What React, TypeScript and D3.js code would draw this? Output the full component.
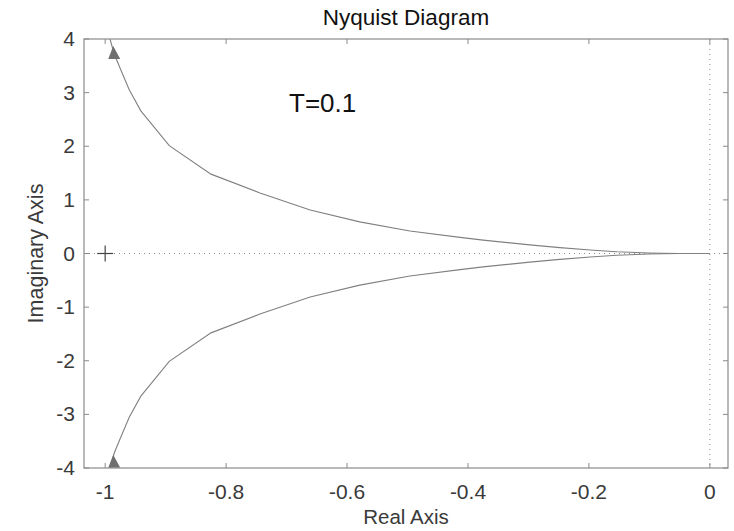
import React from 'react';
import * as d3 from 'd3';

// upper branch of the Nyquist curve (lower branch is its conjugate)
const upperRe = [-0.992, -0.985, -0.977, -0.96, -0.941, -0.894, -0.825, -0.744, -0.661, -0.579, -0.496, -0.413, -0.375, -0.298, -0.248, -0.198, -0.154, -0.1, -0.05, 0];
const upperIm = [4.0, 3.72, 3.5, 3.05, 2.66, 2.01, 1.48, 1.13, 0.81, 0.59, 0.42, 0.3, 0.25, 0.16, 0.11, 0.065, 0.034, 0.01, 0.0, 0];
const arrowRe = [-0.985, -0.985];
const arrowIm = [3.72, -3.9];

const xTicks = [-1, -0.8, -0.6, -0.4, -0.2, 0];
const yTicks = [-4, -3, -2, -1, 0, 1, 2, 3, 4];

const title = 'Nyquist Diagram';
const xLabel = 'Real Axis';
const yLabel = 'Imaginary Axis';
const note = 'T=0.1';

const App = () => {
  const width = 734;
  const height = 531;
  const margin = { top: 39, right: 6, bottom: 63, left: 84 };
  const font = 'Liberation Sans, Arial, sans-serif';
  const axisColor = '#8a8a8a';
  const textColor = '#3a3a3a';
  const lineColor = '#808080';

  const x = d3
    .scaleLinear()
    .domain([-1.035, 0.03])
    .range([margin.left, width - margin.right]);
  const y = d3
    .scaleLinear()
    .domain([-4, 4])
    .range([height - margin.bottom, margin.top]);

  const upper: [number, number][] = upperRe.map((r, i) => [r, upperIm[i]]);
  const lower: [number, number][] = upperRe.map((r, i) => [r, -upperIm[i]]);
  const line = d3
    .line<[number, number]>()
    .x((d) => x(d[0]))
    .y((d) => y(d[1]));

  const x0 = x.range()[0];
  const x1 = x.range()[1];
  const y0 = y.range()[1];
  const y1 = y.range()[0];
  const tick = 5;

  return (
    <svg width={width} height={height} style={{ position: 'absolute', left: 0, top: 0, background: '#fff' }}>
      <defs>
        <clipPath id="plot">
          <rect x={x0} y={y0} width={x1 - x0} height={y1 - y0} />
        </clipPath>
      </defs>
      <rect x={0} y={0} width={width} height={height} fill="#fff" />

      {/* zero lines */}
      <line x1={x0} x2={x1} y1={y(0)} y2={y(0)} stroke={axisColor} strokeDasharray="1,4" />
      <line x1={x(0)} x2={x(0)} y1={y0} y2={y1} stroke={axisColor} strokeDasharray="1,4" />

      {/* critical point */}
      <g stroke="#444" strokeWidth={1.2}>
        <line x1={x(-1) - 8} x2={x(-1) + 8} y1={y(0)} y2={y(0)} />
        <line x1={x(-1)} x2={x(-1)} y1={y(0) - 8} y2={y(0) + 8} />
      </g>

      <g clipPath="url(#plot)">
        <path d={line(upper) || ''} fill="none" stroke={lineColor} strokeWidth={1.1} />
        <path d={line(lower) || ''} fill="none" stroke={lineColor} strokeWidth={1.1} />
        {arrowRe.map((r, i) => {
          const cx = x(r);
          const cy = y(arrowIm[i]);
          return (
            <path
              key={i}
              d={`M${cx - 6},${cy + 5} L${cx + 6},${cy + 5} L${cx - 1},${cy - 8} Z`}
              fill="#6f6f6f"
            />
          );
        })}
      </g>

      {/* box and ticks */}
      <rect x={x0} y={y0} width={x1 - x0} height={y1 - y0} fill="none" stroke={axisColor} strokeWidth={1.2} />
      {xTicks.map((t) => (
        <g key={'x' + t}>
          <line x1={x(t)} x2={x(t)} y1={y1} y2={y1 - tick} stroke={axisColor} />
          <line x1={x(t)} x2={x(t)} y1={y0} y2={y0 + tick} stroke={axisColor} />
          <text x={x(t)} y={y1 + 31} textAnchor="middle" fontSize={21} fontFamily={font} fill={textColor}>
            {t === 0 ? '0' : String(t)}
          </text>
        </g>
      ))}
      {yTicks.map((t) => (
        <g key={'y' + t}>
          <line x1={x0} x2={x0 + tick} y1={y(t)} y2={y(t)} stroke={axisColor} />
          <line x1={x1} x2={x1 - tick} y1={y(t)} y2={y(t)} stroke={axisColor} />
          <text x={x0 - 9} y={y(t) + 7} textAnchor="end" fontSize={21} fontFamily={font} fill={textColor}>
            {String(t)}
          </text>
        </g>
      ))}

      <text x={(x0 + x1) / 2} y={25} textAnchor="middle" fontSize={22.5} fontFamily={font} fill="#111">
        {title}
      </text>
      <text x={(x0 + x1) / 2} y={524} textAnchor="middle" fontSize={20.5} fontFamily={font} fill={textColor}>
        {xLabel}
      </text>
      <text
        transform={`translate(43,${(y0 + y1) / 2}) rotate(-90)`}
        textAnchor="middle"
        fontSize={21.5}
        fontFamily={font}
        fill={textColor}
      >
        {yLabel}
      </text>
      <text x={289} y={112} fontSize={26} fontFamily={font} fill="#111">
        {note}
      </text>
    </svg>
  );
};

export default App;
